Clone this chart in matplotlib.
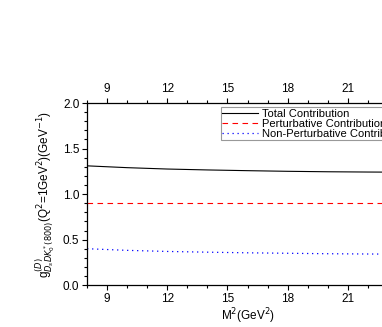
import matplotlib.pyplot as plt
from matplotlib.ticker import MultipleLocator

# M^2 values (GeV^2) and read-off couplings
m2 = [8, 10, 12, 14, 16, 18, 20, 22, 24]
total = [1.31, 1.29, 1.275, 1.265, 1.257, 1.25, 1.245, 1.242, 1.24]
pert = [0.90, 0.90, 0.90, 0.90, 0.90, 0.90, 0.90, 0.90, 0.90]
nonpert = [0.40, 0.382, 0.37, 0.362, 0.355, 0.35, 0.345, 0.342, 0.34]
xticks = [9, 12, 15, 18, 21]

plt.rcParams['font.family'] = ['Liberation Sans', 'DejaVu Sans']

fig = plt.figure(figsize=(3.82, 3.27), dpi=100)
ax = fig.add_axes([0.228, 0.128, 0.84, 0.557])

ax.plot(m2, total, color='black', lw=0.8, label='Total Contribution')
ax.plot(m2, pert, color='red', lw=0.8, ls=(0, (5, 4)), label='Perturbative Contribution')
ax.plot(m2, nonpert, color='blue', lw=0.9, ls=(0, (1, 3)), label='Non-Perturbative Contribution')

ax.set_xlim(8, 24)
ax.set_ylim(0, 2.0)
ax.set_xticks(xticks)
ax.xaxis.set_minor_locator(MultipleLocator(1))
ax.yaxis.set_major_locator(MultipleLocator(0.5))
ax.yaxis.set_minor_locator(MultipleLocator(0.1))
ax.yaxis.set_major_formatter(plt.FormatStrFormatter('%.1f'))

ax.tick_params(which='both', direction='out', labelsize=8.5, top=True, labeltop=True, width=0.8)
ax.tick_params(which='major', length=3.5, pad=2)
ax.tick_params(which='minor', length=2)
for s in ax.spines.values():
    s.set_linewidth(0.9)

ax.set_xlabel(r'M$^2$(GeV$^2$)', fontsize=8.5, labelpad=1)
ax.set_ylabel(r'g$^{(D)}_{D_sDK^*_0(800)}$(Q$^2$=1GeV$^2$)(GeV$^{-1}$)', fontsize=8.5, labelpad=4)

leg = ax.legend(loc='upper left', bbox_to_anchor=(0.403, 1.0), fontsize=8, frameon=True,
                fancybox=False, edgecolor='gray', handlelength=3.2, borderpad=0.1,
                labelspacing=0.0, handletextpad=0.4, borderaxespad=0.4)
leg.get_frame().set_linewidth(0.8)

fig.savefig('out.png', dpi=100)
